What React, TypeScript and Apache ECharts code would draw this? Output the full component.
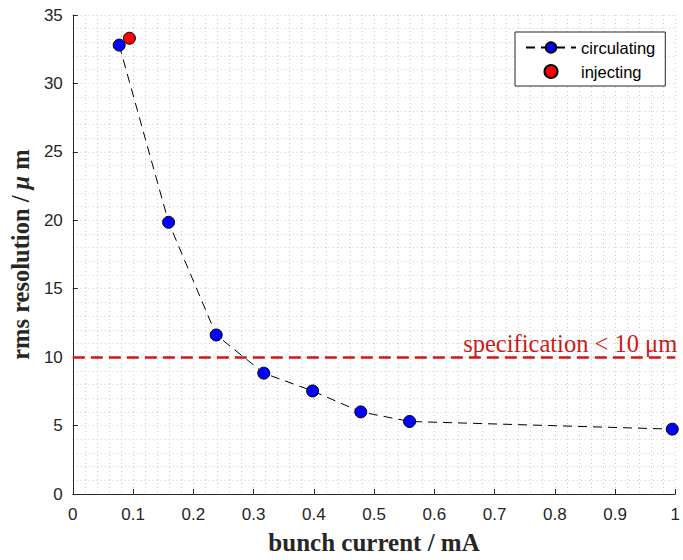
import React, { useEffect, useRef } from "react";
import * as echarts from "echarts";

const circX = [0.077, 0.159, 0.238, 0.317, 0.398, 0.478, 0.559, 0.995];
const circY = [32.8, 19.85, 11.62, 8.83, 7.53, 6.0, 5.3, 4.74];
const injX = [0.094];
const injY = [33.3];
const specValue = 10;
const xTicks = [0, 0.1, 0.2, 0.3, 0.4, 0.5, 0.6, 0.7, 0.8, 0.9, 1];
const yTicks = [0, 5, 10, 15, 20, 25, 30, 35];

export default function App() {
  const ref = useRef<HTMLDivElement>(null);
  useEffect(() => {
    document.body.style.margin = "0";
    document.body.style.overflow = "hidden";
    document.documentElement.style.overflow = "hidden";
    if (!ref.current) return;
    const chart = echarts.init(ref.current, null, { renderer: "svg" });
    const gridLine = { show: true, lineStyle: { color: "#cdcdcd", type: [1, 3] as any, width: 1 } };
    const axisText = { color: "#262626", fontFamily: "Liberation Sans, Arial", fontSize: 17 };
    const serif = "Liberation Serif, Times New Roman";
    chart.setOption({
      animation: false,
      backgroundColor: "#fff",
      grid: { left: 72, top: 15, right: 1, bottom: 63, containLabel: false },
      legend: {
        orient: "vertical",
        left: 515,
        top: 32,
        padding: [7, 10, 6, 10],
        itemGap: 7,
        itemWidth: 50,
        itemHeight: 13,
        backgroundColor: "#fff",
        borderColor: "#262626",
        borderWidth: 1,
        borderRadius: 0,
        textStyle: { color: "#000", fontFamily: "Liberation Sans, Arial", fontSize: 16.5 },
        data: [{ name: "circulating" }, { name: "injecting" }],
      },
      xAxis: {
        type: "value",
        min: xTicks[0],
        max: xTicks[xTicks.length - 1],
        interval: 0.1,
        name: "bunch current / mA",
        nameLocation: "middle",
        nameGap: 36,
        nameTextStyle: { fontFamily: serif, fontWeight: "bold", fontSize: 25, color: "#262626" },
        axisLine: { show: true, onZero: false, lineStyle: { color: "#262626", width: 1 } },
        axisTick: { show: true, inside: true, length: 5, lineStyle: { color: "#262626" } },
        axisLabel: { ...axisText, margin: 12, formatter: (v: number) => String(Math.round(v * 10) / 10) },
        splitLine: gridLine,
        minorTick: { show: false, splitNumber: 5 },
        minorSplitLine: gridLine,
      },
      yAxis: {
        type: "value",
        min: yTicks[0],
        max: yTicks[yTicks.length - 1],
        interval: 5,
        name: "{a|rms resolution / }{b|μ}{a| m}",
        nameLocation: "middle",
        nameGap: 32,
        nameTextStyle: {
          rich: {
            a: { fontFamily: serif, fontWeight: "bold", fontSize: 24.5, color: "#262626" },
            b: { fontFamily: serif, fontWeight: "bold", fontStyle: "italic", fontSize: 24.5, color: "#262626" },
          },
        },
        axisLine: { show: true, onZero: false, lineStyle: { color: "#262626", width: 1 } },
        axisTick: { show: true, inside: true, length: 5, lineStyle: { color: "#262626" } },
        axisLabel: { ...axisText, margin: 10 },
        splitLine: gridLine,
        minorTick: { show: false, splitNumber: 5 },
        minorSplitLine: gridLine,
      },
      series: [
        {
          name: "circulating",
          type: "line",
          data: circX.map((x, i) => [x, circY[i]]),
          symbol: "circle",
          symbolSize: 12,
          lineStyle: { color: "#000", width: 1, type: [9, 6] as any },
          itemStyle: { color: "#0000ff", borderColor: "#000", borderWidth: 1 },
          z: 5,
          markLine: {
            silent: true,
            symbol: "none",
            lineStyle: { color: "#cc1a1a", width: 2.5, type: [12, 6] as any },
            label: {
              show: true,
              position: "insideEndTop",
              formatter: "specification < 10 μm",
              color: "#cc1a1a",
              fontFamily: serif,
              fontSize: 24.5,
              distance: [-2, 1],
            },
            data: [{ yAxis: specValue }],
          },
        },
        {
          name: "injecting",
          type: "scatter",
          data: injX.map((x, i) => [x, injY[i]]),
          symbol: "circle",
          symbolSize: 12,
          itemStyle: { color: "#ff0000", borderColor: "#000", borderWidth: 1, opacity: 1 },
          z: 6,
        },
      ],
    });
    return () => chart.dispose();
  }, []);
  return <div ref={ref} style={{ width: 683, height: 560, position: "absolute", left: 0, top: 0 }} />;
}
